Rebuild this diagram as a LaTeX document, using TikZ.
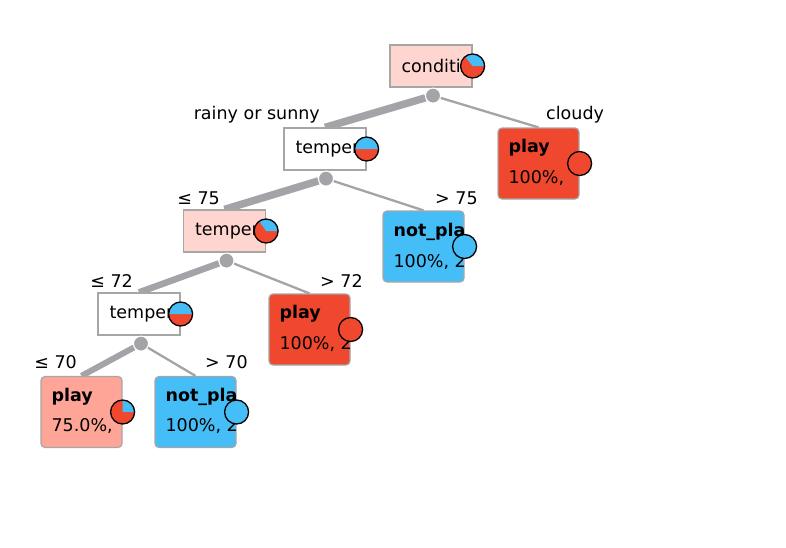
\documentclass[tikz,border=0pt]{standalone}
\usepackage{fontspec}
\setmainfont{DejaVu Sans}
\usetikzlibrary{positioning,backgrounds}

\definecolor{pinkfill}{HTML}{FFD5CF}
\definecolor{playred}{HTML}{F0472F}
\definecolor{notblue}{HTML}{45BEF7}
\definecolor{salmon}{HTML}{FFA597}
\definecolor{edgegray}{HTML}{A4A4A8}
\definecolor{boxgray}{HTML}{A6A6A6}

\begin{document}
\begin{tikzpicture}[x=1pt, y=-1pt, font=\fontsize{17.5}{20}\selectfont]
	\tikzstyle{split_box} = [draw=boxgray, line width=1.2pt, minimum width=82pt, minimum height=42pt, inner sep=0pt]
	\tikzstyle{leaf_box} = [draw=boxgray, line width=1.2pt, rounded corners=4pt, minimum width=81pt, minimum height=71pt, inner sep=0pt]
	\tikzstyle{fork} = [circle, fill=edgegray, draw=white, line width=1pt, minimum size=15pt, inner sep=0pt]
	\tikzstyle{pie_rim} = [draw=black, line width=1.3pt]
	\tikzstyle{branch_thick} = [draw=edgegray, line width=7.5pt]
	\tikzstyle{branch_thin} = [draw=edgegray, line width=2.3pt]
	\tikzstyle{box_text} = [anchor=west, inner sep=0pt]
	\tikzstyle{branch_label} = [inner sep=0pt]

	\useasboundingbox (0,0) rectangle (786,547);

%------------------------------------------------------------
	\node[split_box, fill=pinkfill] (cond) at (431,66) {};
	\node[box_text] (condtxt) at ([xshift=12pt]cond.west) {conditi};
	\coordinate (condpie) at (cond.east);
	\fill[playred] (condpie) circle[radius=12];
	\fill[notblue] (condpie) -- ++(0:12) arc[start angle=0, end angle=-128.6, radius=12] -- cycle;
	\draw[pie_rim] (condpie) circle[radius=12];
	\node[fork] (f0) at ([xshift=2pt, yshift=-8pt]cond.south) {};

%------------------------------------------------------------

	\node[split_box, fill=white] (temp1) at (325,149) {};
	\node[box_text] (temp1txt) at ([xshift=12pt]temp1.west) {temper};
	\coordinate (temp1pie) at (temp1.east);
	\fill[playred] (temp1pie) circle[radius=12];
	\fill[notblue] (temp1pie) -- ++(0:12) arc[start angle=0, end angle=-180, radius=12] -- cycle;
	\draw[pie_rim] (temp1pie) circle[radius=12];
	\node[fork] (f1) at ([xshift=1pt, yshift=-8pt]temp1.south) {};

	\node[leaf_box, fill=playred] (cloudy) at (538.5,163.5) {};
	\begin{scope}
		\clip (cloudy.south west) rectangle (cloudy.north east);
		\node[box_text] (cloudytop) at ([xshift=11pt, yshift=15.5pt]cloudy.west) {\textbf{play}};
		\node[box_text] (cloudybot) at ([xshift=11pt, yshift=-14.5pt]cloudy.west) {100\%,};
	\end{scope}
	\coordinate (cloudypie) at (cloudy.east);
	\fill[playred] (cloudypie) circle[radius=12];
	\draw[pie_rim] (cloudypie) circle[radius=12];

%------------------------------------------------------------

	\node[split_box, fill=pinkfill] (temp2) at (224.5,231) {};
	\node[box_text] (temp2txt) at ([xshift=12pt]temp2.west) {temper};
	\coordinate (temp2pie) at (temp2.east);
	\fill[playred] (temp2pie) circle[radius=12];
	\fill[notblue] (temp2pie) -- ++(0:12) arc[start angle=0, end angle=-125, radius=12] -- cycle;
	\draw[pie_rim] (temp2pie) circle[radius=12];
	\node[fork] (f2) at ([xshift=2pt, yshift=-8pt]temp2.south) {};

	\node[leaf_box, fill=notblue] (nplay1) at (423.5,246.5) {};
	\begin{scope}
		\clip (nplay1.south west) rectangle (nplay1.north east);
		\node[box_text] (nplay1top) at ([xshift=11pt, yshift=14.5pt]nplay1.west) {\textbf{not\_pla}};
		\node[box_text] (nplay1bot) at ([xshift=11pt, yshift=-15.5pt]nplay1.west) {100\%, 2};
	\end{scope}
	\coordinate (nplay1pie) at (nplay1.east);
	\fill[notblue] (nplay1pie) circle[radius=12];
	\draw[pie_rim] (nplay1pie) circle[radius=12];

%------------------------------------------------------------

	\node[split_box, fill=white] (temp3) at (139,314) {};
	\node[box_text] (temp3txt) at ([xshift=12pt]temp3.west) {temper};
	\coordinate (temp3pie) at (temp3.east);
	\fill[playred] (temp3pie) circle[radius=12];
	\fill[notblue] (temp3pie) -- ++(0:12) arc[start angle=0, end angle=-180, radius=12] -- cycle;
	\draw[pie_rim] (temp3pie) circle[radius=12];
	\node[fork] (f3) at ([xshift=2pt, yshift=-8pt]temp3.south) {};

	\node[leaf_box, fill=playred] (play2) at (309.5,329.5) {};
	\begin{scope}
		\clip (play2.south west) rectangle (play2.north east);
		\node[box_text] (play2top) at ([xshift=11pt, yshift=15.5pt]play2.west) {\textbf{play}};
		\node[box_text] (play2bot) at ([xshift=11pt, yshift=-14.5pt]play2.west) {100\%, 2};
	\end{scope}
	\coordinate (play2pie) at (play2.east);
	\fill[playred] (play2pie) circle[radius=12];
	\draw[pie_rim] (play2pie) circle[radius=12];

%------------------------------------------------------------

	\node[leaf_box, fill=salmon] (play3) at (81.5,412) {};
	\begin{scope}
		\clip (play3.south west) rectangle (play3.north east);
		\node[box_text] (play3top) at ([xshift=11pt, yshift=15.5pt]play3.west) {\textbf{play}};
		\node[box_text] (play3bot) at ([xshift=11pt, yshift=-14.5pt]play3.west) {75.0\%,};
	\end{scope}
	\coordinate (play3pie) at (play3.east);
	\fill[playred] (play3pie) circle[radius=12];
	\fill[notblue] (play3pie) -- ++(0:12) arc[start angle=0, end angle=-90, radius=12] -- cycle;
	\draw[pie_rim] (play3pie) circle[radius=12];

	\node[leaf_box, fill=notblue] (nplay2) at (195.5,412) {};
	\begin{scope}
		\clip (nplay2.south west) rectangle (nplay2.north east);
		\node[box_text] (nplay2top) at ([xshift=11pt, yshift=15.5pt]nplay2.west) {\textbf{not\_pla}};
		\node[box_text] (nplay2bot) at ([xshift=11pt, yshift=-14.5pt]nplay2.west) {100\%, 2};
	\end{scope}
	\coordinate (nplay2pie) at (nplay2.east);
	\fill[notblue] (nplay2pie) circle[radius=12];
	\draw[pie_rim] (nplay2pie) circle[radius=12];

%------------------------------------------------------------

	\begin{pgfonlayer}{background}
		\draw[branch_thick] (f0) -- (temp1.north);
		\draw[branch_thin] (f0) -- (cloudy.north);
		\draw[branch_thick] (f1) -- (temp2.north);
		\draw[branch_thin] (f1) -- (nplay1.north);
		\draw[branch_thick, line width=6.5pt] (f2) -- (temp3.north);
		\draw[branch_thin] (f2) -- (play2.north);
		\draw[branch_thick, line width=6pt] (f3) -- (play3.north);
		\draw[branch_thin] (f3) -- (nplay2.north);
	\end{pgfonlayer}

	\node[branch_label, anchor=east] (lrainy) at (320,115) {rainy or sunny};
	\node[branch_label, anchor=west] (lcloudy) at (546,115) {cloudy};
	\node[branch_label, anchor=east] (lle75) at (220,198) {≤ 75};
	\node[branch_label, anchor=west] (lgt75) at (435,198) {> 75};
	\node[branch_label, anchor=east] (lle72) at (133,281) {≤ 72};
	\node[branch_label, anchor=west] (lgt72) at (320,281) {> 72};
	\node[branch_label, anchor=east] (lle70) at (77,362) {≤ 70};
	\node[branch_label, anchor=west] (lgt70) at (205,362) {> 70};

\end{tikzpicture}
\end{document}
